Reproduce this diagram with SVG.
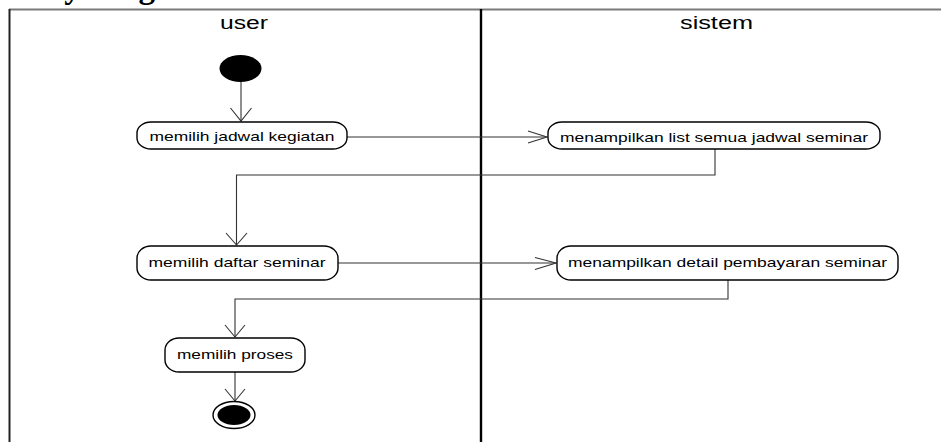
<svg xmlns="http://www.w3.org/2000/svg" width="941" height="442" viewBox="0 0 941 442">
<style>
.node rect{fill:#fff;stroke:#000;stroke-width:1.4}
.node text{font-family:"Liberation Sans",Arial,sans-serif;font-size:13.5px;fill:#000;text-anchor:middle}
.lane{font-family:"Liberation Sans",Arial,sans-serif;font-size:18px;fill:#000;text-anchor:middle}
.conn path{fill:none;stroke:#333;stroke-width:1.1}
.conn .head{fill:none;stroke:#333;stroke-width:1.1}
</style>
<rect width="941" height="442" fill="#fff"/>
<text x="-31" y="-2" font-family="'Liberation Serif','Times New Roman',serif" font-weight="bold" font-size="33">Activity Diagram</text>
<g id="frame">
<line x1="9" y1="9.5" x2="941" y2="9.5" stroke="#7a7a7a" stroke-width="2"/>
<line x1="9.5" y1="9" x2="9.5" y2="442" stroke="#222" stroke-width="2"/>
<line x1="481" y1="9" x2="481" y2="442" stroke="#000" stroke-width="2.4"/>
<text class="lane" x="244" y="28.5" textLength="48" lengthAdjust="spacingAndGlyphs">user</text>
<text class="lane" x="716.5" y="28.5" textLength="73" lengthAdjust="spacingAndGlyphs">sistem</text>
</g>
<g class="conn" id="connectors">
<path d="M241 82V121"/>
<path class="head" d="M230.5 108L241 121L251.5 108"/>
<path d="M347 137H547"/>
<path class="head" d="M528 131L547 137L528 143"/>
<path d="M715 149V175H236.5V245"/>
<path class="head" d="M226 233L236.5 245L247 233"/>
<path d="M338 263H556"/>
<path class="head" d="M535 257.5L556 263L535 269.5"/>
<path d="M728 280V299H235V337"/>
<path class="head" d="M225 325L235 337L245 325"/>
<path d="M235 372V401"/>
<path class="head" d="M225 389L235 401L245 389"/>
</g>
<g id="start"><ellipse cx="240.5" cy="68.5" rx="21" ry="13.5" fill="#000"/></g>
<g class="node" id="n1"><rect x="137" y="122" width="210" height="27" rx="14" ry="11"/><text x="242" y="140.5" textLength="185" lengthAdjust="spacingAndGlyphs">memilih jadwal kegiatan</text></g>
<g class="node" id="n2"><rect x="548" y="122" width="332" height="27" rx="14" ry="11"/><text x="714" y="141.5" textLength="308" lengthAdjust="spacingAndGlyphs">menampilkan list semua jadwal seminar</text></g>
<g class="node" id="n3"><rect x="137" y="246" width="201" height="34" rx="14" ry="12"/><text x="237" y="267" textLength="177" lengthAdjust="spacingAndGlyphs">memilih daftar seminar</text></g>
<g class="node" id="n4"><rect x="557" y="246" width="341" height="34" rx="14" ry="12"/><text x="727.5" y="267" textLength="319" lengthAdjust="spacingAndGlyphs">menampilkan detail pembayaran seminar</text></g>
<g class="node" id="n5"><rect x="165" y="338" width="140" height="34" rx="14" ry="12"/><text x="235" y="358.5" textLength="116" lengthAdjust="spacingAndGlyphs">memilih proses</text></g>
<g id="end"><ellipse cx="234" cy="415" rx="21" ry="13.5" fill="#fff" stroke="#000" stroke-width="1.4"/><ellipse cx="234" cy="415" rx="16.5" ry="10" fill="#000"/></g>
</svg>
